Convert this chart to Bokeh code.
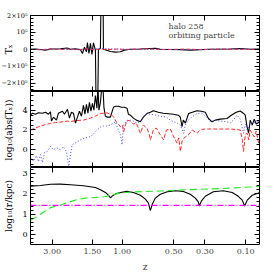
import numpy as np
from bokeh.plotting import figure
from bokeh.layouts import column, row, Spacer
from bokeh.models import Range1d, LinearAxis, FixedTicker, Label, CustomJSTickFormatter
from bokeh.core.properties import value
from bokeh.embed import file_html
from bokeh.resources import INLINE

FONT = "DejaVu Serif"

# ---- x axis: redshift ticks, plotted on a cosmic-time scale (Gyr) ----
z_ticks = [3.0, 1.5, 1.0, 0.5, 0.3, 0.1]
z_tick_labels = ["3.00", "1.50", "1.00", "0.50", "0.30", "0.10"]
t_range = [0.984, 12.88]

def cosmic_time(z):
    a = 1.0 / (1.0 + np.asarray(z, dtype=float))
    return 11.13 * np.arcsinh(np.sqrt(0.7 / 0.3) * a ** 1.5)

# ---- panel 1: T_x ----
tx_black_t = [0.984, 1.243, 1.503, 1.762, 2.022, 2.540, 2.888, 3.059, 3.319, 3.578, 3.682, 3.786,
              3.890, 3.941, 4.019, 4.097, 4.175, 4.253, 4.357, 4.408, 4.460, 4.512, 4.616, 4.668,
              4.746, 4.772, 4.927, 5.135, 5.394, 5.654, 5.861, 6.173, 6.692, 7.470, 7.729, 8.767,
              9.286, 10.324, 11.362, 11.881, 12.400, 12.867]
tx_black = [0, 2e3, -1e3, -6e3, 2e3, 3e3, 8e3, 0, 3e3, -3e3, -2.5e4, 1.2e4,
            -1.5e4, 4e4, -2.5e4, 3.5e4, -3e4, 3.8e4, -5e3, -5e5, -5e5, 0, 5e3, 5e5,
            5e5, 0, -5e3, -1.3e4, -1.7e4, -1.5e4, -5e3, 0, 2e3, 6e3, 0, -2e3,
            -5e3, 0, 2e3, 5e3, 0, 1e3]
tx_small_t = [0.984, 1.5, 2.0, 2.5, 3.0, 3.5, 4.0, 4.3, 4.6, 5.0, 5.5, 6.0, 7.0, 8.0, 9.0,
              10.0, 11.0, 12.0, 12.87]
tx_red = [0, -3e3, 2e3, -2e3, 1e3, -3e3, 3e3, -4e3, 2e3, -2e3, 1e3, -1e3, 2e3, -2e3, 1e3,
          -2e3, 2e3, -1e3, 0]
tx_blue = [1e3, -2e3, 0, 2e3, -1e3, 2e3, -2e3, 3e3, 5e3, 3e3, 2e3, 0, -1e3, 1e3, -3e3,
           0, 1e3, 2e3, 0]
tx_ticks = [-2e5, -1e5, 0, 1e5, 2e5]
tx_tick_labels = ["\u22122\u00d710\u2075", "\u22121\u00d710\u2075", "0", "10\u2075", "2\u00d710\u2075"]

# ---- panel 2: log10(abs(T_x)) ----
lt_black_t = [0.984, 1.087, 1.243, 1.399, 1.606, 1.762, 1.918, 2.022, 2.073, 2.177, 2.333, 2.437,
              2.644, 2.748, 2.904, 3.007, 3.111, 3.215, 3.319, 3.423, 3.526, 3.630, 3.734, 3.812,
              3.890, 3.967, 4.045, 4.123, 4.201, 4.279, 4.357, 4.434, 4.486, 4.538, 4.616, 4.694,
              4.746, 4.798, 4.875, 4.979, 5.135, 5.291, 5.394, 5.550, 5.706, 5.861, 6.001, 6.069,
              6.173, 6.328, 6.484, 6.692, 6.847, 7.055, 7.210, 7.366, 7.626, 7.885, 8.145, 8.404,
              8.663, 8.767, 8.855, 8.923, 9.027, 9.198, 9.390, 9.634, 9.857, 10.064, 10.220, 10.412,
              10.583, 10.843, 11.190, 11.414, 11.673, 11.881, 12.036, 12.140, 12.218, 12.311, 12.400,
              12.504, 12.607, 12.711, 12.867]
lt_black = [3.5, 3.7, 3.6, 3.75, 3.7, 3.8, 3.6, 3.85, 2.9, 3.3, 3.0, 3.7,
            3.9, 3.6, 4.1, 3.2, 3.8, 3.7, 2.7, 3.3, 3.9, 3.4, 4.5, 3.6,
            4.6, 3.7, 4.8, 3.9, 4.7, 4.0, 5.5, 4.2, 6.5, 4.0, 4.8, 6.5,
            6.5, 4.3, 3.4, 3.3, 3.3, 4.3, 4.4, 4.4, 4.3, 4.3, 4.2, 3.6,
            3.5, 3.2, 3.0, 2.83, 3.3, 3.7, 3.8, 3.95, 3.8, 3.7, 3.65, 3.6,
            3.5, 3.3, 2.33, 3.0, 2.7, 3.67, 3.8, 3.95, 3.9, 3.8, 3.2, 2.83,
            3.0, 3.1, 3.17, 3.5, 3.8, 3.93, 3.7, 3.5, 2.5, 1.67, 3.0,
            2.5, 3.1, 2.6, 2.83]
lt_red_t = [0.984, 1.243, 1.503, 1.762, 2.022, 2.281, 2.540, 2.888, 3.059, 3.319, 3.734, 4.097,
            4.357, 4.616, 4.964, 5.135, 5.306, 5.446, 5.550, 5.654, 5.758, 5.825, 5.913, 6.017,
            6.173, 6.328, 6.484, 6.692, 6.847, 7.039, 7.159, 7.210, 7.366, 7.522, 7.729, 7.901,
            8.041, 8.248, 8.404, 8.596, 8.689, 8.767, 8.871, 9.027, 9.182, 9.390, 9.634, 9.753,
            9.893, 10.324, 10.843, 11.362, 11.673, 11.881, 11.985, 12.052, 12.140, 12.228, 12.322,
            12.400, 12.504, 12.607, 12.711, 12.830]
lt_red = [2.0, 2.2, 2.4, 2.55, 2.67, 2.75, 2.8, 2.9, 2.85, 2.95, 3.0, 3.2,
          3.4, 3.67, 3.73, 3.6, 3.33, 2.8, 2.6, 2.33, 2.5, 1.83, 2.5, 3.0,
          2.9, 2.6, 2.7, 1.67, 2.5, 2.17, 1.5, 1.0, 2.0, 2.2, 1.5, 1.0,
          2.0, 2.1, 1.4, 0.67, 1.2, -0.17, 1.0, 1.3, 1.5, 2.0, 1.67, 1.9,
          2.07, 2.1, 2.1, 2.1, 2.05, 2.0, 1.0, -0.17, 1.5, 1.7, 1.0,
          2.0, 1.6, 1.3, 1.9, 0.67]
lt_blue_t = [0.984, 1.155, 1.295, 1.399, 1.503, 1.606, 1.710, 1.850, 2.022, 2.177, 2.333, 2.540,
             2.696, 2.852, 2.971, 3.059, 3.147, 3.319, 3.578, 3.838, 4.097, 4.253, 4.445, 4.616,
             4.772, 4.927, 5.135, 5.291, 5.394, 5.550, 5.654, 5.742, 5.810, 5.965, 6.173, 6.328,
             6.536, 6.692, 6.847, 7.039, 7.210, 7.470, 7.729, 8.041, 8.248, 8.420, 8.612, 8.767,
             8.938, 9.027, 9.182, 9.374, 9.634, 9.893, 10.116, 10.324, 10.583, 10.843, 11.190,
             11.362, 11.517, 11.709, 11.881, 12.052, 12.140, 12.244, 12.400, 12.659, 12.830]
lt_blue = [-0.83, -1.17, -0.6, -1.2, -0.5, -1.3, -0.3, -0.17, 0.33, 0.0, 0.2, 0.0,
           0.3, -0.2, -1.67, -0.5, 0.5, 0.7, 1.0, 1.2, 1.33, 1.6, 2.0, 2.3,
           2.4, 2.4, 2.5, 2.7, 2.83, 2.0, 1.5, 0.5, 2.5, 2.9, 3.0, 2.9,
           2.7, 2.9, 3.3, 3.67, 3.6, 3.5, 3.4, 3.3, 3.0, 2.83, 2.7, 2.5,
           1.67, 2.5, 3.0, 3.33, 3.67, 3.7, 3.33, 2.83, 3.0, 2.9, 2.83,
           2.7, 3.0, 3.5, 3.1, 1.67, 2.6, 2.0, 2.7, 2.8, 2.83]
lt_ticks = [0, 2, 4]
lt_minor = [-1.5, -1.0, -0.5, 0.5, 1.0, 1.5, 2.5, 3.0, 3.5, 4.5, 5.0, 5.5]

# ---- panel 3: log10(r/kpc) ----
r_black_t = [0.984, 1.503, 2.022, 2.540, 3.059, 3.734, 4.357, 4.616, 4.875, 5.031, 5.135, 5.239,
             5.446, 5.654, 6.001, 6.328, 6.692, 6.951, 7.107, 7.210, 7.314, 7.470, 7.729, 8.093,
             8.508, 8.923, 9.286, 9.546, 9.701, 9.753, 9.857, 10.064, 10.480, 10.999, 11.465,
             11.777, 11.985, 12.104, 12.244, 12.504, 12.867]
r_black = [2.38, 2.41, 2.47, 2.48, 2.45, 2.40, 2.31, 2.20, 2.07, 1.93, 1.80, 1.90,
           2.02, 2.07, 2.12, 2.07, 1.93, 1.74, 1.55, 1.17, 1.50, 1.79, 1.98, 2.10,
           2.15, 2.12, 1.98, 1.79, 1.60, 1.40, 1.64, 1.88, 2.10, 2.15, 2.07,
           1.88, 1.69, 1.40, 1.69, 1.93, 2.05]
r_green_t = [0.984, 1.503, 2.022, 2.540, 3.147, 3.407, 3.838, 4.616, 4.964, 5.135, 5.654, 6.173,
             7.729, 9.286, 10.843, 12.867]
r_green = [0.69, 0.99, 1.32, 1.45, 1.64, 1.72, 1.79, 1.83, 1.88, 1.93, 2.04, 2.09,
           2.14, 2.21, 2.26, 2.36]
r_magenta_t = [0.984, 12.88]
r_magenta = [1.43, 1.43]
r_ticks = [0, 1, 2, 3]
r_minor = [-0.4, -0.2, 0.2, 0.4, 0.6, 0.8, 1.2, 1.4, 1.6, 1.8, 2.2, 2.4, 2.6, 2.8, 3.2]

x_tick_pos = [round(float(v), 4) for v in cosmic_time(z_ticks)]
xr = Range1d(t_range[0], t_range[1])

LABEL_W = 29      # width of the y-label strip left of each panel
FRAME_W = 229
TOP = 15          # space above the top panel


def hidden(ax):
    ax.formatter = CustomJSTickFormatter(code="return ''")
    ax.major_label_text_color = None
    ax.major_label_text_font_size = "1px"
    ax.major_label_standoff = 0
    ax.axis_line_color = None
    return ax


def style_ticks(ax):
    ax.major_tick_in = 5
    ax.major_tick_out = 0
    ax.minor_tick_in = 3
    ax.minor_tick_out = 0
    ax.major_tick_line_color = "black"
    ax.minor_tick_line_color = "black"
    return ax


def no_grid(p):
    for g in p.grid:
        g.visible = False
    p.xgrid.grid_line_color = None
    p.ygrid.grid_line_color = None


def make_panel(yr, fh, ticks, minor, bottom_labels=False):
    p = figure(frame_width=FRAME_W, frame_height=fh, x_range=xr, y_range=yr,
               x_axis_location=None, y_axis_location=None,
               output_backend="svg", toolbar_location=None,
               min_border_left=1, min_border_right=15, min_border_top=0,
               min_border_bottom=0)
    p.outline_line_color = "black"
    p.outline_line_width = 1
    p.background_fill_color = "white"
    p.border_fill_color = "white"
    for side in ("left", "right"):
        ax = LinearAxis(ticker=FixedTicker(ticks=ticks, minor_ticks=minor))
        p.add_layout(hidden(style_ticks(ax)), side)
    top_ax = LinearAxis(ticker=FixedTicker(ticks=x_tick_pos))
    p.add_layout(hidden(style_ticks(top_ax)), "above")
    bot = LinearAxis(ticker=FixedTicker(ticks=x_tick_pos))
    style_ticks(bot)
    if bottom_labels:
        bot.axis_line_color = None
        bot.major_label_overrides = {k: v for k, v in zip(x_tick_pos, z_tick_labels)}
        bot.major_label_text_font = FONT
        bot.major_label_text_font_size = "8px"
        bot.major_label_standoff = 4
        bot.axis_label = "z"
        bot.axis_label_text_font = FONT
        bot.axis_label_text_font_style = "normal"
        bot.axis_label_text_font_size = "9px"
        bot.axis_label_standoff = 5
    else:
        hidden(bot)
    p.add_layout(bot, "below")
    no_grid(p)
    return p


def label_strip(yr, fh, ticks, labels, title, ymid, size):
    s = figure(frame_width=LABEL_W, frame_height=fh, x_range=Range1d(0, LABEL_W), y_range=yr,
               x_axis_location=None, y_axis_location=None,
               output_backend="svg", toolbar_location=None,
               min_border_left=0, min_border_right=0, min_border_top=0,
               min_border_bottom=0)
    s.outline_line_color = None
    s.background_fill_color = "white"
    s.border_fill_color = "white"
    no_grid(s)
    s.text(x=[LABEL_W - 2] * len(ticks), y=ticks, text=labels, text_align="right",
           text_baseline="middle", text_font=value(FONT), text_font_size=size,
           text_color="black")
    s.text(x=[8], y=[ymid], text=[title], angle=np.pi / 2, text_align="center",
           text_baseline="middle", text_font=value(FONT), text_font_size="9px",
           text_color="black")
    return s


# panel 1
y1 = (-2.5e5, 2.0e5)
yr1 = Range1d(*y1)
p1 = make_panel(yr1, 76, tx_ticks, list(np.arange(-2.4e5, 2.01e5, 2e4)))
p1.line(tx_black_t, tx_black, line_color="black", line_width=1.1)
p1.line(tx_small_t, tx_red, line_color="#ff2828", line_width=1, line_dash="4 2")
p1.line(tx_small_t, tx_blue, line_color="#4848ff", line_width=1, line_dash="1 2")
p1.add_layout(Label(x=138, y=65, x_units="screen", y_units="screen", text="halo 258",
                    text_baseline="middle", text_font=FONT, text_font_size="8px"))
p1.add_layout(Label(x=138, y=56, x_units="screen", y_units="screen", text="orbiting particle",
                    text_baseline="middle", text_font=FONT, text_font_size="8px"))
# strip extends over the top margin so the uppermost label is not clipped
strip1_range = Range1d(y1[0], y1[1] + TOP * (y1[1] - y1[0]) / 76)
s1 = label_strip(strip1_range, 76 + TOP, tx_ticks, tx_tick_labels, "T\u2093", 0, "6.5px")
top_block = column(Spacer(height=TOP, width=FRAME_W + 16), p1, spacing=0)

# panel 2
yr2 = Range1d(-1.8, 5.9)
p2 = make_panel(yr2, 76, lt_ticks, lt_minor)
p2.line(lt_black_t, lt_black, line_color="black", line_width=1.1)
p2.line(lt_red_t, lt_red, line_color="#ff2828", line_width=1, line_dash="4 2")
p2.line(lt_blue_t, lt_blue, line_color="#4848ff", line_width=1, line_dash="1 2")
s2 = label_strip(yr2, 76, lt_ticks, [str(v) for v in lt_ticks],
                 "log\u2081\u2080(abs(T\u2093))", 2.0, "8px")

# panel 3
yr3 = Range1d(-0.5, 3.3)
p3 = make_panel(yr3, 77, r_ticks, r_minor, bottom_labels=True)
p3.line(r_black_t, r_black, line_color="black", line_width=1.1)
p3.line(r_green_t, r_green, line_color="#22ee22", line_width=1.1, line_dash="7 4")
p3.line(r_magenta_t, r_magenta, line_color="#ff00ff", line_width=1.2, line_dash="6 2 1 2")
s3 = label_strip(yr3, 77, r_ticks, [str(v) for v in r_ticks],
                 "log\u2081\u2080(r/kpc)", 1.4, "8px")

layout = column(row(s1, top_block, spacing=0), row(s2, p2, spacing=0), row(s3, p3, spacing=0),
                spacing=0)
open("out.html", "w").write(file_html(layout, INLINE))
